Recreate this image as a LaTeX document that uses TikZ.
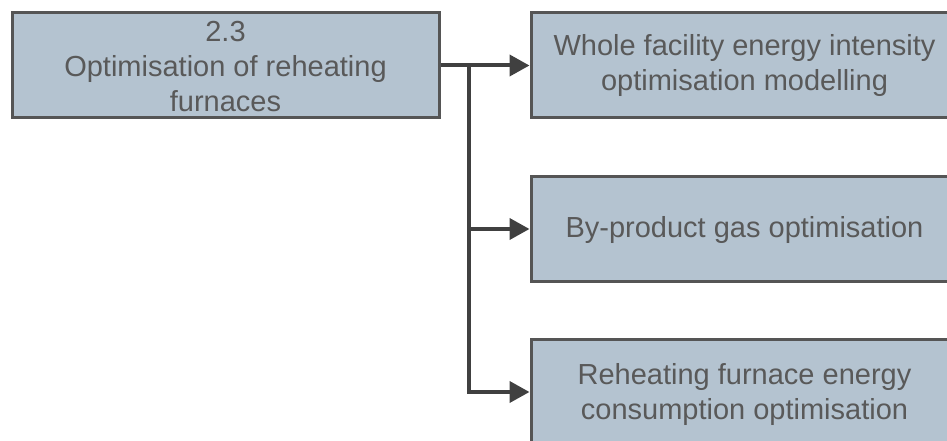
\documentclass[tikz,border=0pt]{standalone}
\usepackage{fontspec}
\setmainfont{Liberation Sans}
\usetikzlibrary{arrows.meta}
\definecolor{boxfill}{HTML}{B4C3D0}
\definecolor{boxline}{HTML}{555555}
\definecolor{txt}{HTML}{595959}
\definecolor{conncol}{HTML}{404040}
\begin{document}
\begin{tikzpicture}[x=1pt,y=-1pt,
  blk/.style={draw=boxline, line width=3pt, fill=boxfill, text=txt,
    minimum width=427pt, minimum height=105pt, inner sep=0pt, align=center,
    font=\fontsize{29}{35}\selectfont},
  conn/.style={draw=conncol, line width=4pt,
    -{Triangle[length=20pt,width=21pt]}}]
\useasboundingbox (0,0) rectangle (947,441);
\begin{scope}
\clip (0,0) rectangle (947,441);
\node[blk] (L) at (225.5,65.5) {\rule{0pt}{22pt}2.3\\Optimisation of reheating\\furnaces};
\node[blk] (R1) at (744.5,65.5) {\rule{0pt}{22pt}Whole facility energy intensity\\optimisation modelling};
\node[blk] (R2) at (744.5,229) {\rule{0pt}{24pt}By-product gas optimisation};
\node[blk, minimum height=111pt] (R3) at (744.5,394.5) {Reheating furnace energy\\consumption optimisation};
\end{scope}
\coordinate (j) at (468.5,65.5);
\coordinate (e3) at (R3.west |- 0,392);
\draw[conn] (L.east) -- (R1.west);
\draw[conn] (j) |- (e3);
\draw[conn] (j |- R2.west) -- (R2.west);
\end{tikzpicture}
\end{document}
